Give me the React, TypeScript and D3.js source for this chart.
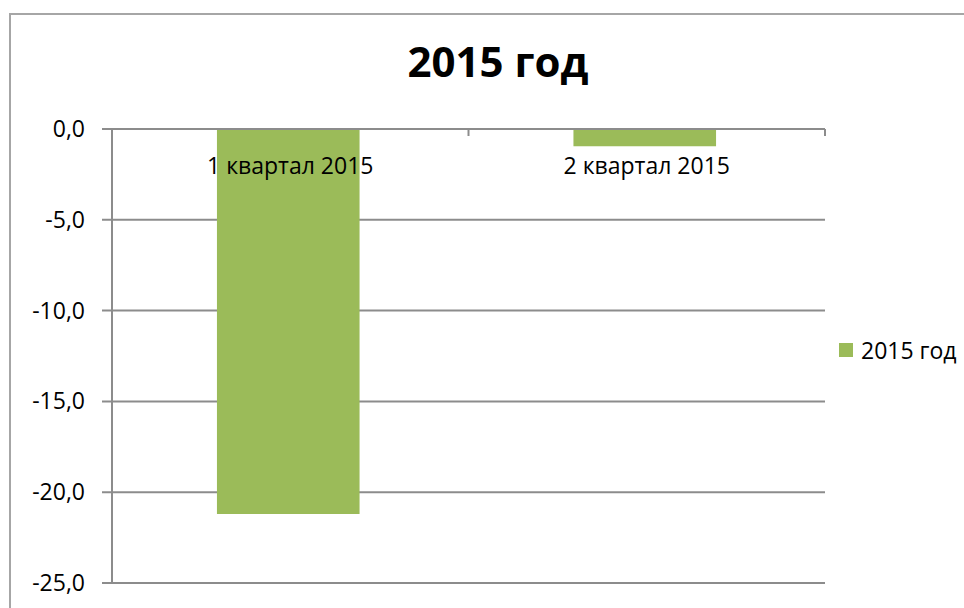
import React, { useEffect, useRef } from 'react'
import * as d3 from 'd3'

const categories = ['1 квартал 2015', '2 квартал 2015']
const values = [-21.2, -0.95]
const yTicks = [0, -5, -10, -15, -20, -25]
const seriesName = '2015 год'
const title = '2015 год'

const W = 964
const H = 608
const FONT = '"Open Sans", "Noto Sans", sans-serif'

export default function App () {
  const ref = useRef<SVGSVGElement>(null)

  useEffect(() => {
    const svg = d3.select(ref.current)
    svg.selectAll('*').remove()

    const left = 112
    const right = 825
    const top = 129
    const bottom = 583

    const y = d3.scaleLinear().domain([0, -25]).range([top, bottom])
    const x = d3.scaleBand().domain(categories).range([left - 2, right - 2]).paddingInner(0.6).paddingOuter(0.3)
    const xb = d3.scaleBand().domain(categories).range([left, right])

    // chart frame
    svg.append('rect')
      .attr('x', 10).attr('y', 14)
      .attr('width', 1000).attr('height', 700)
      .attr('fill', 'white').attr('stroke', '#a6a6a6').attr('stroke-width', 2)

    svg.append('text')
      .attr('x', 498).attr('y', 77)
      .attr('text-anchor', 'middle')
      .attr('font-family', FONT).attr('font-weight', 'bold').attr('font-size', 42)
      .attr('fill', '#000')
      .text(title)

    // gridlines + y ticks
    const g = svg.append('g')
    yTicks.forEach(t => {
      g.append('line')
        .attr('x1', left - 10).attr('x2', right)
        .attr('y1', y(t)).attr('y2', y(t))
        .attr('stroke', '#8c8c8c').attr('stroke-width', 2)
      g.append('text')
        .attr('x', 85).attr('y', y(t) + 8)
        .attr('text-anchor', 'end')
        .attr('font-family', FONT).attr('font-size', 23)
        .attr('fill', '#000')
        .text(d3.format('.1f')(t).replace('.', ',').replace('−', '-'))
    })

    // y axis line
    g.append('line')
      .attr('x1', left).attr('x2', left)
      .attr('y1', top).attr('y2', bottom)
      .attr('stroke', '#8c8c8c').attr('stroke-width', 2)

    // bars
    svg.append('g').selectAll('rect')
      .data(values)
      .enter().append('rect')
      .attr('x', (d, i) => x(categories[i]) as number)
      .attr('width', x.bandwidth())
      .attr('y', y(0) + 1)
      .attr('height', d => y(d) - y(0) - 1)
      .attr('fill', '#9bbb59')

    // category ticks on zero line
    categories.forEach(c => {
      const tx = (xb(c) as number) + xb.bandwidth()
      g.append('line')
        .attr('x1', tx).attr('x2', tx)
        .attr('y1', top).attr('y2', top + 7)
        .attr('stroke', '#8c8c8c').attr('stroke-width', 2)
    })

    // category labels
    svg.append('g').selectAll('text')
      .data(categories)
      .enter().append('text')
      .attr('x', d => (xb(d) as number) + xb.bandwidth() / 2)
      .attr('y', 174)
      .attr('text-anchor', 'middle')
      .attr('font-family', FONT).attr('font-size', 23)
      .attr('fill', '#000')
      .text(d => d)

    // legend
    svg.append('rect')
      .attr('x', 839).attr('y', 343)
      .attr('width', 14).attr('height', 14)
      .attr('fill', '#9bbb59')
    svg.append('text')
      .attr('x', 861).attr('y', 359)
      .attr('font-family', FONT).attr('font-size', 23)
      .attr('fill', '#000')
      .text(seriesName)
  }, [])

  return (
    <div style={{ position: 'absolute', left: 0, top: 0 }}>
      <svg ref={ref} width={W} height={H} style={{ display: 'block', background: 'white' }} />
    </div>
  )
}
